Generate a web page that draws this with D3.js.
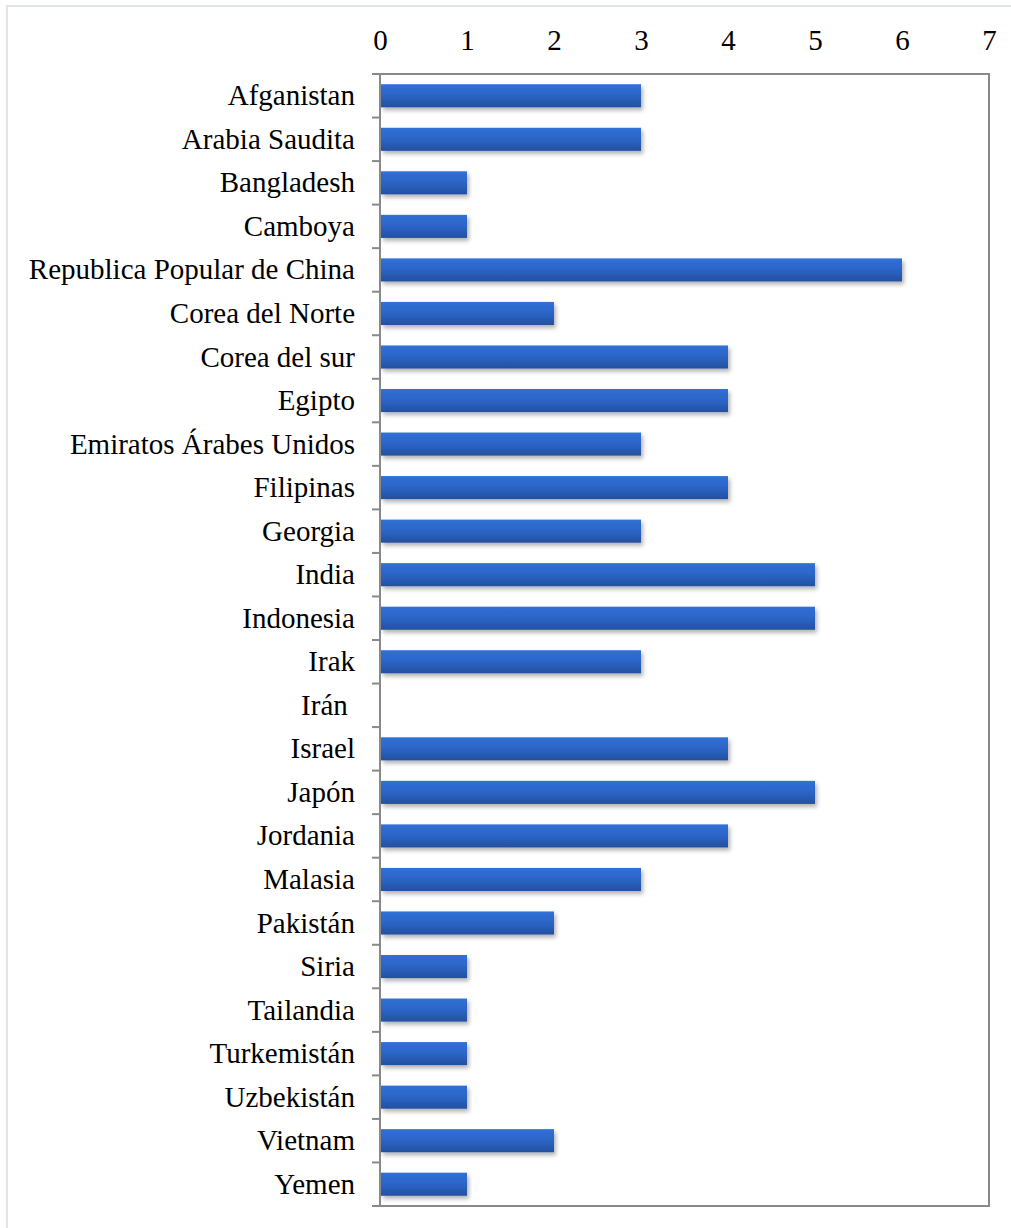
<!DOCTYPE html>
<html><head><meta charset="utf-8">
<script src="https://cdn.jsdelivr.net/npm/d3@7"></script>
<style>html,body{margin:0;padding:0;background:#fff;overflow:hidden}</style>
</head><body>
<script>
const categories = ["Afganistan","Arabia Saudita","Bangladesh","Camboya","Republica Popular de China","Corea del Norte","Corea del sur","Egipto","Emiratos Árabes Unidos","Filipinas","Georgia","India","Indonesia","Irak","Irán ","Israel","Japón","Jordania","Malasia","Pakistán","Siria","Tailandia","Turkemistán","Uzbekistán","Vietnam","Yemen"];
const values = [3,3,1,1,6,2,4,4,3,4,3,5,5,3,0,4,5,4,3,2,1,1,1,1,2,1];
const xTicks = [0,1,2,3,4,5,6,7];

const W = 1011, H = 1228;
const m = {left: 380, right: 989, top: 74, bottom: 1206};
const svg = d3.select("body").append("svg").attr("width", W).attr("height", H);

const defs = svg.append("defs");
const g = defs.append("linearGradient").attr("id","bg").attr("x1",0).attr("y1",0).attr("x2",0).attr("y2",1);
g.append("stop").attr("offset","0%").attr("stop-color","#3070d6");
g.append("stop").attr("offset","50%").attr("stop-color","#2c64c6");
g.append("stop").attr("offset","100%").attr("stop-color","#23509f");
const f = defs.append("filter").attr("id","sh").attr("x","-5%").attr("y","-30%").attr("width","110%").attr("height","180%");
f.append("feDropShadow").attr("dx",2).attr("dy",3).attr("stdDeviation",2).attr("flood-color","#000").attr("flood-opacity",0.3);

// outer frame
svg.append("rect").attr("x",7).attr("y",6).attr("width",W+20).attr("height",H+20)
  .attr("fill","none").attr("stroke","#e1e5ea").attr("stroke-width",2);

const x = d3.scaleLinear().domain([0,7]).range([m.left, m.right]);
const y = d3.scaleBand().domain(categories).range([m.top, m.bottom]).paddingInner(0.47).paddingOuter(0.235);

// plot border
svg.append("rect").attr("x",m.left).attr("y",m.top).attr("width",m.right-m.left).attr("height",m.bottom-m.top)
  .attr("fill","none").attr("stroke","#898989").attr("stroke-width",2);

// bars
svg.append("g").selectAll("rect").data(categories).join("rect")
  .attr("x", x(0)+1)
  .attr("y", d => y(d))
  .attr("width", (d,i) => Math.max(0, x(values[i]) - x(0) - 1))
  .attr("height", y.bandwidth())
  .attr("fill","url(#bg)")
  .attr("filter","url(#sh)");

// y tick marks at band boundaries
const step = (m.bottom - m.top)/categories.length;
const bounds = d3.range(categories.length+1).map(i => m.top + i*step);
svg.append("g").selectAll("line").data(bounds).join("line")
  .attr("x1", m.left-8).attr("x2", m.left)
  .attr("y1", d=>d).attr("y2", d=>d)
  .attr("stroke","#898989").attr("stroke-width",2);

// y axis line
svg.append("line").attr("x1",m.left).attr("x2",m.left).attr("y1",m.top).attr("y2",m.bottom)
  .attr("stroke","#898989").attr("stroke-width",2);

// y labels
svg.append("g").selectAll("text").data(categories).join("text")
  .attr("x", m.left-25)
  .attr("y", d => y(d) + y.bandwidth()/2)
  .attr("dy","0.33em")
  .attr("text-anchor","end")
  .style("white-space","pre")
  .attr("font-family","'Liberation Serif','Times New Roman',serif")
  .attr("font-size",29)
  .attr("fill","#000")
  .text(d=>d);

// x axis labels (top)
const xa = d3.axisTop(x).tickValues(xTicks).tickFormat(d3.format("d")).tickSize(0).tickPadding(0);
const xg = svg.append("g").attr("transform",`translate(0,${m.top})`).call(xa);
xg.select(".domain").remove();
xg.selectAll("text")
  .attr("y", -34)
  .attr("dy","0.33em")
  .attr("font-family","'Liberation Serif','Times New Roman',serif")
  .attr("font-size",29)
  .attr("fill","#000");
</script>
</body></html>
